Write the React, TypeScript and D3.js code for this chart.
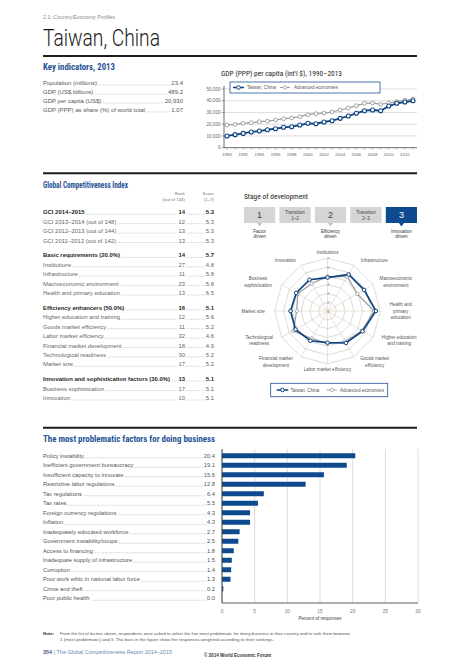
import React from "react";
import * as d3 from "d3";

// ---------- DATA ----------
const keyLabels = ["Population (millions)", "GDP (US$ billions)", "GDP per capita (US$)", "GDP (PPP) as share (%) of world total"];
const keyValues = ["23.4", "489.2", "20,930", "1.07"];

const gdpYears = [1990, 1991, 1992, 1993, 1994, 1995, 1996, 1997, 1998, 1999, 2000, 2001, 2002, 2003, 2004, 2005, 2006, 2007, 2008, 2009, 2010, 2011, 2012, 2013];
const taiwanGdp = [10000, 11100, 12200, 13400, 14200, 15300, 16200, 17400, 17900, 19300, 20800, 20400, 21900, 23000, 25000, 27000, 29300, 31500, 32100, 31500, 35500, 37800, 38900, 40000];
const advancedGdp = [19300, 19900, 20800, 21300, 22200, 22700, 23600, 24700, 25300, 26400, 28100, 29000, 29500, 30400, 32100, 33800, 35800, 37800, 38100, 36900, 38100, 39300, 40400, 41500];
const gdpYTicks = [0, 10000, 20000, 30000, 40000, 50000];
const gdpXTicks = [1990, 1992, 1994, 1996, 1998, 2000, 2002, 2004, 2006, 2008, 2010, 2012];

const gciLabels = ["GCI 2014–2015", "GCI 2013–2014 (out of 148)", "GCI 2012–2013 (out of 144)", "GCI 2011–2012 (out of 142)", "Basic requirements (20.0%)", "Institutions", "Infrastructure", "Macroeconomic environment", "Health and primary education", "Efficiency enhancers (50.0%)", "Higher education and training", "Goods market efficiency", "Labor market efficiency", "Financial market development", "Technological readiness", "Market size", "Innovation and sophistication factors (30.0%)", "Business sophistication", "Innovation"];
const gciRanks = ["14", "12", "13", "13", "14", "27", "11", "23", "13", "16", "12", "11", "32", "18", "30", "17", "13", "17", "10"];
const gciScores = ["5.3", "5.3", "5.3", "5.3", "5.7", "4.8", "5.8", "5.8", "6.5", "5.1", "5.6", "5.2", "4.6", "4.9", "5.2", "5.2", "5.1", "5.1", "5.1"];
const gciGroupStarts = [0, 4, 9, 16];

const stageNames = [["1"], ["Transition", "1–2"], ["2"], ["Transition", "2–3"], ["3"]];
const stageCaptions = [["Factor", "driven"], [], ["Efficiency", "driven"], [], ["Innovation", "driven"]];
const currentStage = 4;

const pillarLabels = [["Institutions"], ["Infrastructure"], ["Macroeconomic", "environment"], ["Health and", "primary", "education"], ["Higher education", "and training"], ["Goods market", "efficiency"], ["Labor market efficiency"], ["Financial market", "development"], ["Technological", "readiness"], ["Market size"], ["Business", "sophistication"], ["Innovation"]];
const taiwanScores = [4.8, 5.8, 5.8, 6.5, 5.6, 5.2, 4.6, 4.9, 5.2, 5.2, 5.1, 5.1];
const advancedScores = [4.9, 5.5, 4.9, 6.3, 5.5, 5.0, 4.7, 4.6, 5.5, 4.5, 4.9, 4.6];
const radarLevels = [1, 2, 3, 4, 5, 6, 7];

const factors = ["Policy instability", "Inefficient government bureaucracy", "Insufficient capacity to innovate", "Restrictive labor regulations", "Tax regulations", "Tax rates", "Foreign currency regulations", "Inflation", "Inadequately educated workforce", "Government instability/coups", "Access to financing", "Inadequate supply of infrastructure", "Corruption", "Poor work ethic in national labor force", "Crime and theft", "Poor public health"];
const factorValues = [20.4, 19.1, 15.6, 12.8, 6.4, 5.5, 4.3, 4.3, 2.7, 2.5, 1.8, 1.5, 1.4, 1.3, 0.2, 0.0];
const factorTicks = [0, 5, 10, 15, 20, 25, 30];

// ---------- STYLE ----------
const SANS = "'Liberation Sans', Arial, Helvetica, sans-serif";
const COND = "'Liberation Sans Narrow', 'Roboto Condensed', 'Liberation Sans', Arial, sans-serif";
const TITLE_BLUE = "#1f5396";
const DARK_BLUE = "#0d437f";
const BAR_BLUE = "#0e4a8e";
const GRAY_LINE = "#9b9b9b";

const halo = { stroke: "#fff", strokeWidth: 2.6, paintOrder: "stroke" as const, strokeLinejoin: "round" as const };

function Leader({ x1, x2, y }: { x1: number; x2: number; y: number }) {
  return <line x1={x1} x2={x2} y1={y} y2={y} stroke="#8a8a8a" strokeWidth={0.6} strokeDasharray="0.6 1" />;
}

export default function App() {
  // ---- GDP chart scales ----
  const gx = d3.scaleLinear().domain([1990, 2013]).range([227, 413]);
  const gy = d3.scaleLinear().domain([0, 50000]).range([147.7, 89]);
  const gLine = d3.line<number>().x((_, i) => gx(gdpYears[i])).y((d) => gy(d));

  // ---- GCI rows ----
  const rowStep = 9.4, groupGap = 5.5, rowY0 = 212.3;
  const groupOf = (i: number) => gciGroupStarts.filter((s) => s <= i).length - 1;
  const gciY = (i: number) => rowY0 + i * rowStep + groupOf(i) * groupGap;

  // ---- Stage boxes ----
  const sx = d3.scaleBand<number>().domain(d3.range(stageNames.length)).range([244, 417]).paddingInner(0.12);

  // ---- Radar ----
  const cx = 327.5, cy = 311;
  const rr = d3.scaleLinear().domain([1, 7]).range([0, 52.8]);
  const ang = (i: number) => (i * 2 * Math.PI) / pillarLabels.length;
  const radial = d3.lineRadial<number>().angle((_, i) => ang(i)).radius((d) => rr(d)).curve(d3.curveLinearClosed);
  const ring = (lv: number) => radial(pillarLabels.map(() => lv)) as string;

  // ---- Bar chart ----
  const bx = d3.scaleLinear().domain([0, 30]).range([222, 418]);
  const by = d3.scaleBand<string>().domain(factors).range([451, 603]);
  const bc = (f: string) => (by(f) as number) + by.bandwidth() / 2;

  return (
    <svg width={474} height={670} style={{ position: "absolute", left: 0, top: 0, background: "#fff" }} fontFamily={SANS}>
      <rect width={474} height={670} fill="#fff" />
      {/* Header */}
      <text x={43} y={19} fontSize={5.2} fill="#8a8a8a" textLength={72} lengthAdjust="spacingAndGlyphs">2.1: Country/Economy Profiles</text>
      <text x={43} y={46} fontSize={23} fontWeight={300} fontFamily="Roboto, 'Liberation Sans', sans-serif" fill="#1a1a1a" textLength={117} lengthAdjust="spacingAndGlyphs">Taiwan, China</text>
      <line x1={43} x2={417} y1={56} y2={56} stroke="#1e1e1e" strokeWidth={2} />

      {/* Key indicators */}
      <text x={43} y={70} fontSize={8.5} fontWeight="bold" fontFamily={COND} fill={TITLE_BLUE} textLength={72} lengthAdjust="spacingAndGlyphs">Key indicators, 2013</text>
      {keyLabels.map((l, i) => {
        const y = 83.2 + i * 8.9;
        return (
          <g key={l}>
            <Leader x1={44} x2={182} y={y + 2} />
            <text x={43} y={y} dy="0.35em" fontSize={6} fill="#555" {...halo}>{l}</text>
            <text x={183} y={y} dy="0.35em" fontSize={6} fill="#555" textAnchor="end" {...halo}>{keyValues[i]}</text>
          </g>
        );
      })}

      {/* GDP chart */}
      <text x={221} y={76} fontSize={7.8} fontFamily={COND} fill="#222" textLength={121} lengthAdjust="spacingAndGlyphs">GDP (PPP) per capita (int'l $), 1990–2013</text>
      {gdpYTicks.map((t) => (
        <g key={t}>
          {t > 0 && <line x1={224} x2={417} y1={gy(t)} y2={gy(t)} stroke="#cfcfcf" strokeWidth={0.7} />}
          <line x1={221.5} x2={224} y1={gy(t)} y2={gy(t)} stroke="#555" strokeWidth={0.5} />
          <text x={220.5} y={gy(t)} dy="0.35em" fontSize={4.6} fill="#666" textAnchor="end">{d3.format(",")(t)}</text>
        </g>
      ))}
      <line x1={224} x2={224} y1={86} y2={148} stroke="#444" strokeWidth={0.8} />
      <line x1={224} x2={417} y1={147.7} y2={147.7} stroke="#444" strokeWidth={0.8} />
      {gdpYears.map((yr) => (
        <line key={yr} x1={gx(yr)} x2={gx(yr)} y1={147.7} y2={149.8} stroke="#666" strokeWidth={0.4} />
      ))}
      {gdpXTicks.map((yr) => (
        <text key={yr} x={gx(yr)} y={154.5} dy="0.35em" fontSize={4.4} fill="#666" textAnchor="middle">{yr}</text>
      ))}
      <path d={gLine(advancedGdp) as string} fill="none" stroke={GRAY_LINE} strokeWidth={1.2} />
      {advancedGdp.map((v, i) => (
        <circle key={i} cx={gx(gdpYears[i])} cy={gy(v)} r={1.9} fill="#fff" stroke={GRAY_LINE} strokeWidth={0.9} />
      ))}
      <path d={gLine(taiwanGdp) as string} fill="none" stroke={DARK_BLUE} strokeWidth={1.8} />
      {taiwanGdp.map((v, i) => (
        <circle key={i} cx={gx(gdpYears[i])} cy={gy(v)} r={2} fill="#fff" stroke={DARK_BLUE} strokeWidth={1.1} />
      ))}
      <rect x={230} y={82} width={150} height={11} fill="#fff" stroke={TITLE_BLUE} strokeWidth={0.8} />
      <line x1={233} x2={244} y1={87.5} y2={87.5} stroke={DARK_BLUE} strokeWidth={1.5} />
      <circle cx={238.5} cy={87.5} r={1.8} fill="#fff" stroke={DARK_BLUE} strokeWidth={1} />
      <text x={247} y={87.5} dy="0.35em" fontSize={4.6} fill="#555">Taiwan, China</text>
      <line x1={280} x2={290} y1={87.5} y2={87.5} stroke={GRAY_LINE} strokeWidth={1} />
      <circle cx={285} cy={87.5} r={1.7} fill="#fff" stroke={GRAY_LINE} strokeWidth={0.8} />
      <text x={294} y={87.5} dy="0.35em" fontSize={4.6} fill="#555">Advanced economies</text>

      {/* Rule above GCI */}
      <line x1={43} x2={417} y1={173.3} y2={173.3} stroke="#1e1e1e" strokeWidth={2} />

      {/* GCI table */}
      <text x={43} y={188} fontSize={8.5} fontWeight="bold" fontFamily={COND} fill={TITLE_BLUE} textLength={85} lengthAdjust="spacingAndGlyphs">Global Competitiveness Index</text>
      <text x={185} y={193.3} dy="0.35em" fontSize={4.4} fill="#777" textAnchor="end">Rank</text>
      <text x={185} y={199.3} dy="0.35em" fontSize={4.4} fill="#777" textAnchor="end">(out of 144)</text>
      <text x={214} y={193.3} dy="0.35em" fontSize={4.4} fill="#777" textAnchor="end">Score</text>
      <text x={214} y={199.3} dy="0.35em" fontSize={4.4} fill="#777" textAnchor="end">(1–7)</text>
      {gciLabels.map((l, i) => {
        const y = gciY(i);
        const bold = gciGroupStarts.includes(i);
        const fill = bold ? "#1e1e1e" : "#666";
        const fw = bold ? "bold" : "normal";
        return (
          <g key={l}>
            <Leader x1={44} x2={213} y={y + 2} />
            <text x={43} y={y} dy="0.35em" fontSize={5.9} fontWeight={fw} fill={fill} {...halo}>{l}</text>
            <text x={185} y={y} dy="0.35em" fontSize={5.9} fontWeight={fw} fill={fill} textAnchor="end" {...halo}>{gciRanks[i]}</text>
            <text x={214} y={y} dy="0.35em" fontSize={5.9} fontWeight={fw} fill={fill} textAnchor="end" {...halo}>{gciScores[i]}</text>
          </g>
        );
      })}

      {/* Stage of development */}
      <text x={244} y={198.7} fontSize={7.5} fontFamily={COND} fill="#222" textLength={64} lengthAdjust="spacingAndGlyphs">Stage of development</text>
      {stageNames.map((lines, i) => {
        const x0 = sx(i) as number;
        const w = sx.bandwidth();
        const mid = x0 + w / 2;
        const on = i === currentStage;
        const fill = on ? BAR_BLUE : "#d5d5d5";
        const tcol = on ? "#fff" : "#444";
        return (
          <g key={i}>
            <rect x={x0} y={207} width={w} height={16} fill={fill} />
            {lines.length === 1 ? (
              <text x={mid} y={215.3} dy="0.35em" fontSize={9} fill={tcol} textAnchor="middle" fontWeight={500}>{lines[0]}</text>
            ) : (
              lines.map((t, k) => (
                <text key={k} x={mid} y={212.3 + k * 5.8} dy="0.35em" fontSize={4.5} fill={tcol} textAnchor="middle">{t}</text>
              ))
            )}
            {stageCaptions[i].length > 0 && (
              <g>
                <path d={`M${mid - 2.5},223 L${mid + 2.5},223 L${mid},226.5 Z`} fill={on ? BAR_BLUE : "#c4c4c4"} />
                {stageCaptions[i].map((t, k) => (
                  <text key={k} x={mid} y={231.7 + k * 5} dy="0.35em" fontSize={4.5} fill="#333" textAnchor="middle">{t}</text>
                ))}
              </g>
            )}
          </g>
        );
      })}

      {/* Radar */}
      <g transform={`translate(${cx},${cy})`}>
        {radarLevels.slice(1).map((lv) => (
          <path key={lv} d={ring(lv)} fill="none" stroke="#c3c3c3" strokeWidth={0.6} />
        ))}
        {pillarLabels.map((_, i) => (
          <line key={i} x1={0} y1={0} x2={rr(7) * Math.sin(ang(i))} y2={-rr(7) * Math.cos(ang(i))} stroke="#d8c5ae" strokeWidth={0.5} />
        ))}
        {radarLevels.map((lv) => (
          <text key={lv} x={0.8} y={-rr(lv)} dy="0.35em" fontSize={4.4} fill="#888" textAnchor="middle">{lv}</text>
        ))}
        <path d={radial(advancedScores) as string} fill="none" stroke={GRAY_LINE} strokeWidth={1.2} />
        {advancedScores.map((v, i) => (
          <circle key={i} cx={rr(v) * Math.sin(ang(i))} cy={-rr(v) * Math.cos(ang(i))} r={1.7} fill="#fff" stroke={GRAY_LINE} strokeWidth={0.8} />
        ))}
        <path d={radial(taiwanScores) as string} fill="none" stroke={DARK_BLUE} strokeWidth={1.7} />
        {taiwanScores.map((v, i) => (
          <circle key={i} cx={rr(v) * Math.sin(ang(i))} cy={-rr(v) * Math.cos(ang(i))} r={1.8} fill="#fff" stroke={DARK_BLUE} strokeWidth={1} />
        ))}
      </g>
      {pillarLabels.map((lines, i) => {
        const a = ang(i);
        const s = Math.sin(a), c = Math.cos(a);
        const rx = 62 + 20 * Math.max(0, -c - 0.6);
        const px = cx + s * rx;
        const yc = cy - c * 58.5;
        const maxLen = d3.max(lines, (t) => t.length) as number;
        const w = maxLen * 2.25;
        const xc = Math.abs(s) < 0.2 ? px : px + Math.sign(s) * (w / 2);
        const lh = 6.7;
        return (
          <g key={i}>
            {lines.map((t, k) => (
              <text key={k} x={xc} y={yc + (k - (lines.length - 1) / 2) * lh} dy="0.35em" fontSize={4.6} fill="#555" textAnchor="middle">{t}</text>
            ))}
          </g>
        );
      })}
      <rect x={270.7} y={383.3} width={117} height={13.4} fill="#fff" stroke={TITLE_BLUE} strokeWidth={0.8} />
      <line x1={276.7} x2={288.3} y1={390} y2={390} stroke={DARK_BLUE} strokeWidth={1.5} />
      <circle cx={282.5} cy={390} r={1.8} fill="#fff" stroke={DARK_BLUE} strokeWidth={1} />
      <text x={290.5} y={390} dy="0.35em" fontSize={4.6} fill="#555">Taiwan, China</text>
      <line x1={326.7} x2={336.7} y1={390} y2={390} stroke={GRAY_LINE} strokeWidth={1} />
      <circle cx={331.7} cy={390} r={1.7} fill="#fff" stroke={GRAY_LINE} strokeWidth={0.8} />
      <text x={340} y={390} dy="0.35em" fontSize={4.6} fill="#555">Advanced economies</text>

      {/* Rule above problematic factors */}
      <line x1={43} x2={417} y1={427.7} y2={427.7} stroke="#1e1e1e" strokeWidth={2} />

      {/* Problematic factors */}
      <text x={43} y={441.6} fontSize={9} fontWeight="bold" fontFamily={COND} fill={TITLE_BLUE} textLength={172} lengthAdjust="spacingAndGlyphs">The most problematic factors for doing business</text>
      {factors.map((f, i) => {
        const y = bc(f);
        return (
          <g key={f}>
            <Leader x1={44} x2={214} y={y + 2} />
            <text x={43} y={y} dy="0.35em" fontSize={5.8} fill="#555" {...halo}>{f}</text>
            <text x={215} y={y} dy="0.35em" fontSize={5.8} fill="#555" textAnchor="end" {...halo}>{factorValues[i].toFixed(1)}</text>
          </g>
        );
      })}
      {factorTicks.slice(1).map((t) => (
        <line key={t} x1={bx(t)} x2={bx(t)} y1={449} y2={603} stroke="#d3d3d3" strokeWidth={0.8} />
      ))}
      {factors.map((f, i) => (
        <rect key={f} x={bx(0)} y={bc(f) - 2.5} width={bx(factorValues[i]) - bx(0)} height={5} fill={BAR_BLUE} />
      ))}
      <line x1={222} x2={222} y1={449} y2={603} stroke="#333" strokeWidth={1} />
      <line x1={222} x2={418} y1={603} y2={603} stroke="#333" strokeWidth={0.8} />
      {factorTicks.map((t) => (
        <text key={t} x={bx(t)} y={611} dy="0.35em" fontSize={4.8} fill="#777" textAnchor="middle">{t}</text>
      ))}
      <text x={320} y={617.8} dy="0.35em" fontSize={5} fill="#444" textAnchor="middle" textLength={43} lengthAdjust="spacingAndGlyphs">Percent of responses</text>

      {/* Footer */}
      <text x={43} y={633.3} dy="0.35em" fontSize={4.4} fontWeight="bold" fill="#333">Note:</text>
      <text x={60} y={633.3} dy="0.35em" fontSize={4.4} fill="#555" textLength={290} lengthAdjust="spacingAndGlyphs">From the list of factors above, respondents were asked to select the five most problematic for doing business in their country and to rank them between</text>
      <text x={60} y={639.8} dy="0.35em" fontSize={4.4} fill="#555" textLength={214} lengthAdjust="spacingAndGlyphs">1 (most problematic) and 5. The bars in the figure show the responses weighted according to their rankings.</text>
      <text x={43} y={652.3} dy="0.35em" fontSize={5.4} fill="#6a8ab0" textLength={129} lengthAdjust="spacingAndGlyphs">
        <tspan fontWeight="bold" fill="#3d628f">354</tspan>
        <tspan fill="#999">{"  |  "}</tspan>
        <tspan>The Global Competitiveness Report 2014–2015</tspan>
      </text>
      <text x={237.5} y={655.7} dy="0.35em" fontSize={5} fontWeight="bold" fill="#333" textAnchor="middle" textLength={67} lengthAdjust="spacingAndGlyphs">© 2014 World Economic Forum</text>
    </svg>
  );
}
